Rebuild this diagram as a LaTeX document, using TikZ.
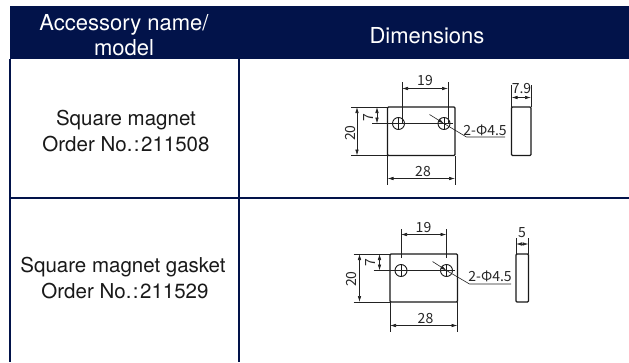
\documentclass[tikz,border=0pt]{standalone}
\usepackage{fontspec}
\setmainfont{TeX Gyre Heros}
\newfontfamily\dimfont{Noto Sans CJK SC}
\usepackage{xcolor}
\usetikzlibrary{arrows.meta}
\definecolor{navy}{HTML}{02134A}
\definecolor{dimgray}{HTML}{222222}
\tikzset{
    cell/.style={align=center, font=\fontsize{20.5}{25.5}\selectfont, text=black!90, inner sep=0pt},
    head/.style={align=center, font=\fontsize{22}{25}\selectfont, text=white, inner sep=0pt},
    grid/.style={draw=navy, line width=1.2pt},
    part/.style={draw=black!90, line width=1.1pt, rounded corners=1pt},
    hole/.style={draw=black!90, line width=0.9pt},
    dimline/.style={draw=dimgray, line width=0.6pt, {Latex[length=6pt,width=3.5pt]}-{Latex[length=6pt,width=3.5pt]}},
    extline/.style={draw=dimgray, line width=0.6pt},
    dimtext/.style={font=\dimfont\fontsize{14}{14}\selectfont, text=black!85, inner sep=0pt}
}
\begin{document}
\begin{tikzpicture}[x=1pt, y=-1pt]
        \useasboundingbox (0, 0) rectangle (629, 362);

        % table
        \fill [navy] (10, 6) rectangle (629, 59);
        \draw [grid] (10, 59) -- (10, 362);
        \draw [grid] (239, 59) -- (239, 362);
        \draw [grid] (10, 198) -- (629, 198);
        \node [head] (headname) at (124, 35) {Accessory name/\\model};
        \node [head] (headdim) at (427, 36) {Dimensions};
        \node [cell] (magnet) at (126, 131) {Square magnet\\Order No.\kern1.5pt:\kern1.5pt211508};
        \node [cell] (gasket) at (123, 278) {Square magnet gasket\\\hspace*{4pt}Order No.\kern1.5pt:\kern1.5pt211529};

        % magnet, front
        \draw [part] (387.5, 107) rectangle (455, 155.5);
        \foreach \x in {398.5, 444} {
            \draw [hole] (\x, 123.5) circle (6);
            \draw [hole] (\x, 117) -- (\x, 130);
        }
        \draw [extline] (351, 107) -- (387.5, 107);
        \draw [extline] (351, 155.5) -- (387.5, 155.5);
        \draw [extline] (372, 123.5) -- (453, 123.5);
        \draw [extline] (402, 82) -- (402, 123);
        \draw [extline] (448, 82) -- (448, 123);
        \draw [extline] (387.5, 155.5) -- (387.5, 185);
        \draw [extline] (455, 155.5) -- (455, 185);
        \draw [dimline] (402, 88.5) -- (448, 88.5);
        \draw [dimline] (357, 107) -- (357, 155.5);
        \draw [dimline] (377, 107) -- (377, 123.5);
        \draw [dimline] (387.5, 178.5) -- (455, 178.5);
        \node [dimtext] (magnettop) at (425, 81) {19};
        \node [dimtext, rotate=90] (magnetheight) at (350.5, 133) {20};
        \node [dimtext, rotate=90] (magnethole) at (368.5, 118) {7};
        \node [dimtext] (magnetwidth) at (423, 172) {28};
        \draw [extline, -{Latex[length=6pt,width=3.5pt]}] (429.5, 114.5) -- (444, 123.5);
        \draw [extline] (444, 123.5) -- (466.5, 137) -- (505, 137);
        \node [dimtext] (magnetdia) at (485, 130) {2-Φ4.5};

        % magnet, side
        \draw [part] (511.5, 107) rectangle (531, 155.5);
        \draw [extline] (511.5, 85) -- (511.5, 107);
        \draw [extline] (531, 85) -- (531, 107);
        \draw [dimline] (511.5, 97.5) -- (531, 97.5);
        \node [dimtext] (magnetthick) at (521.5, 88.5) {7.9};

        % gasket, front
        \draw [part] (390, 254) rectangle (457.5, 302);
        \foreach \x in {401, 446.5} {
            \draw [hole] (\x, 270.5) circle (6);
            \draw [hole] (\x, 264) -- (\x, 277);
        }
        \draw [extline] (353.5, 254) -- (390, 254);
        \draw [extline] (353.5, 302) -- (390, 302);
        \draw [extline] (373.5, 270.5) -- (455, 270.5);
        \draw [extline] (401, 229) -- (401, 258);
        \draw [extline] (446.5, 229) -- (446.5, 258);
        \draw [extline] (390, 302) -- (390, 332);
        \draw [extline] (457.5, 302) -- (457.5, 332);
        \draw [dimline] (401, 234.5) -- (446.5, 234.5);
        \draw [dimline] (359.5, 254) -- (359.5, 302);
        \draw [dimline] (379.5, 254) -- (379.5, 270.5);
        \draw [dimline] (390, 325.5) -- (457.5, 325.5);
        \node [dimtext] (gaskettop) at (423.5, 228) {19};
        \node [dimtext, rotate=90] (gasketheight) at (351.5, 279) {20};
        \node [dimtext, rotate=90] (gaskethole) at (371, 263) {7};
        \node [dimtext] (gasketwidth) at (425.5, 319) {28};
        \draw [extline, -{Latex[length=6pt,width=3.5pt]}] (432.5, 261.5) -- (446.5, 270.5);
        \draw [extline] (446.5, 270.5) -- (469.5, 284) -- (511, 284);
        \node [dimtext] (gasketdia) at (490, 276.5) {2-Φ4.5};

        % gasket, side
        \draw [part] (516, 254) rectangle (528.5, 302);
        \draw [extline] (516, 238) -- (516, 254);
        \draw [extline] (528.5, 238) -- (528.5, 254);
        \draw [dimline] (516, 244) -- (528.5, 244);
        \node [dimtext] (gasketthick) at (522, 232.5) {5};
\end{tikzpicture}
\end{document}
